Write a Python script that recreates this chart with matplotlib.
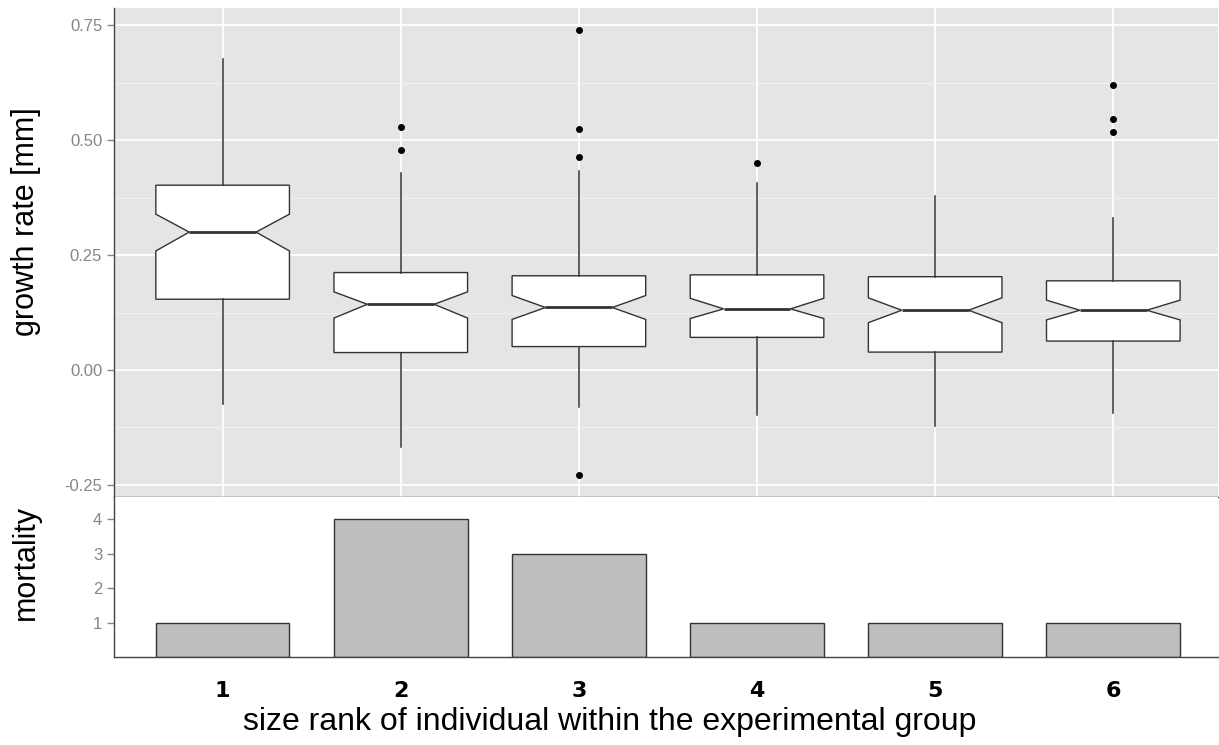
import numpy as np
import matplotlib.pyplot as plt

ranks = [1, 2, 3, 4, 5, 6]
rank_labels = ['1', '2', '3', '4', '5', '6']

# growth rate box statistics
q1 = [0.154, 0.038, 0.051, 0.071, 0.039, 0.063]
med = [0.300, 0.143, 0.136, 0.133, 0.130, 0.130]
q3 = [0.402, 0.212, 0.205, 0.207, 0.203, 0.194]
whis_lo = [-0.074, -0.168, -0.080, -0.098, -0.122, -0.094]
whis_hi = [0.676, 0.428, 0.433, 0.407, 0.378, 0.330]
notch_lo = [0.259, 0.113, 0.110, 0.112, 0.103, 0.109]
notch_hi = [0.339, 0.170, 0.162, 0.156, 0.157, 0.152]
outliers = [[], [0.529, 0.478], [0.739, 0.525, 0.464, -0.228],
            [0.451], [], [0.621, 0.547, 0.518]]

mortality = [1, 4, 3, 1, 1, 1]

growth_ticks = [-0.25, 0.0, 0.25, 0.5, 0.75]
growth_ticklabels = ['-0.25', '0.00', '0.25', '0.50', '0.75']
minor_ticks = [-0.125, 0.125, 0.375, 0.625]

plt.rcParams['font.family'] = ['Liberation Sans', 'DejaVu Sans']

fig = plt.figure(figsize=(12.19, 7.45), dpi=100)
ax = fig.add_axes([0.0935, 0.333, 0.906, 0.656])
ax2 = fig.add_axes([0.0935, 0.118, 0.906, 0.215])

stats = []
for i in range(len(ranks)):
    stats.append(dict(med=med[i], q1=q1[i], q3=q3[i], whislo=whis_lo[i],
                      whishi=whis_hi[i], cilo=notch_lo[i], cihi=notch_hi[i],
                      fliers=outliers[i]))

ax.set_facecolor('#E5E5E5')
ax.set_axisbelow(True)
ax.bxp(stats, positions=ranks, widths=0.75, shownotches=True, showcaps=False,
       patch_artist=True,
       boxprops=dict(facecolor='white', edgecolor='#333333', linewidth=1),
       whiskerprops=dict(color='#333333', linewidth=1.1),
       medianprops=dict(color='#333333', linewidth=2),
       flierprops=dict(marker='o', markerfacecolor='black', markeredgecolor='black',
                       markersize=4))
ax.set_xlim(0.39, 6.59)
ax.set_ylim(-0.276, 0.787)
ax.set_yticks(growth_ticks)
ax.set_yticklabels(growth_ticklabels)
ax.set_yticks(minor_ticks, minor=True)
ax.set_xticks(ranks)
ax.grid(True, which='major', color='white', linewidth=1.3)
ax.grid(True, which='minor', axis='y', color='#F2F2F2', linewidth=0.7)
ax.tick_params(axis='x', length=0, labelbottom=False)
ax.tick_params(axis='y', which='major', colors='#858585', labelsize=12, length=5, width=1)
ax.tick_params(axis='y', which='minor', length=0)
for s in ['top', 'right']:
    ax.spines[s].set_visible(False)
for s in ['left', 'bottom']:
    ax.spines[s].set_color('#444444')
    ax.spines[s].set_linewidth(1)
ax.set_ylabel('growth rate [mm]', fontsize=22)
ax.yaxis.set_label_coords(0.034, 1 - 222 / 745, transform=fig.transFigure)

ax2.bar(ranks, mortality, width=0.75, color='#BEBEBE', edgecolor='#333333', linewidth=1)
ax2.set_xlim(0.39, 6.59)
ax2.set_ylim(0, 4.64)
ax2.set_yticks([1, 2, 3, 4])
ax2.set_xticks(ranks)
ax2.set_xticklabels(rank_labels, fontsize=16, fontweight='bold', family='DejaVu Sans')
ax2.tick_params(axis='x', length=0, pad=17)
ax2.tick_params(axis='y', colors='#858585', labelsize=12, length=5, width=1)
for s in ['top', 'right']:
    ax2.spines[s].set_visible(False)
for s in ['left', 'bottom']:
    ax2.spines[s].set_color('#444444')
    ax2.spines[s].set_linewidth(1)
ax2.set_ylabel('mortality', fontsize=22)
ax2.yaxis.set_label_coords(0.034, 1 - 563 / 745, transform=fig.transFigure)
ax2.set_xlabel('size rank of individual within the experimental group', fontsize=23)
ax2.xaxis.set_label_coords(0.5, 1 - 722 / 745, transform=fig.transFigure)
ax2.xaxis.label.set_va('center')

fig.savefig('out.png', dpi=100)
